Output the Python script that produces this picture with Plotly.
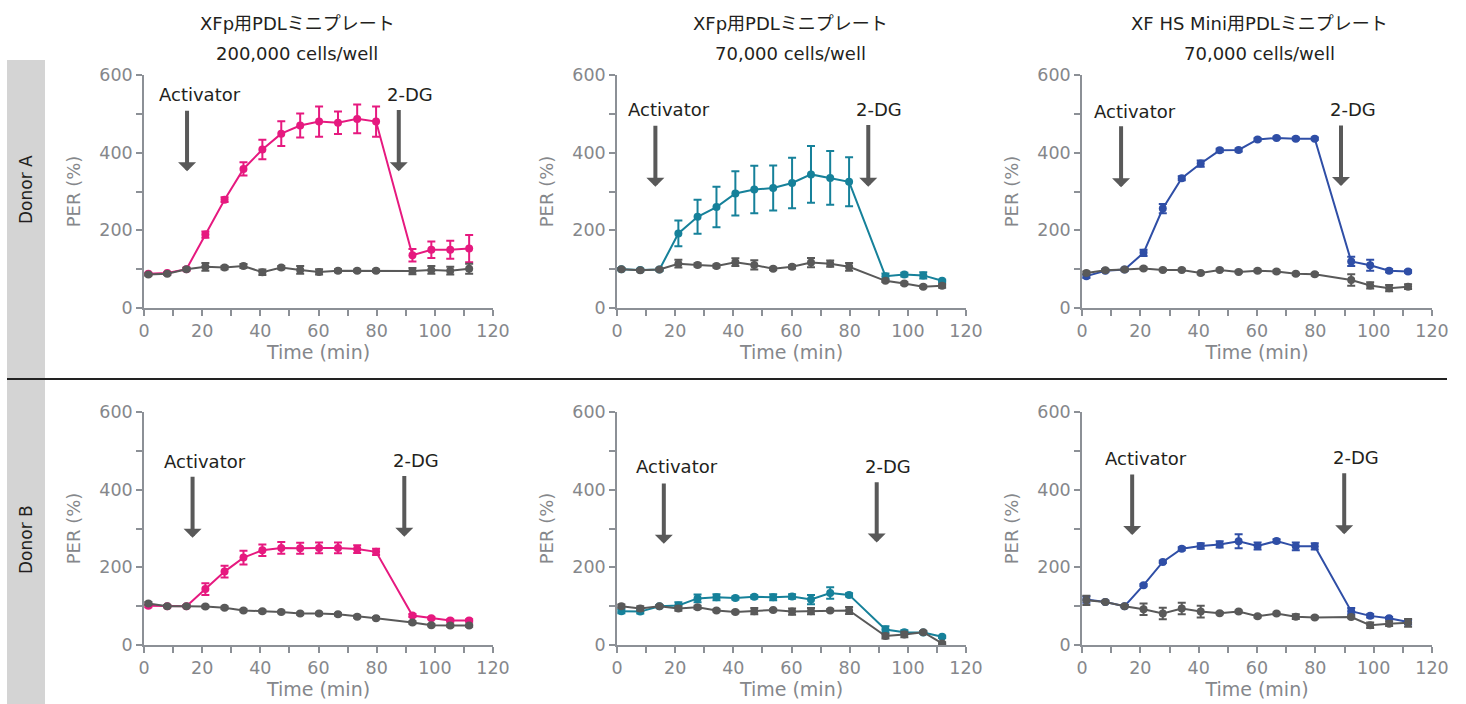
import plotly.graph_objects as go

W, H = 1466, 704

# ---------------- data ----------------
time_min = [1.5, 8.0, 14.6, 21.1, 27.7, 34.2, 40.7, 47.2, 53.7, 60.2, 66.7, 73.3, 79.8, 92.3, 98.8, 105.3, 111.8]

titles_line1 = ["XFp用PDLミニプレート", "XFp用PDLミニプレート", "XF HS Mini用PDLミニプレート"]
titles_line2 = ["200,000 cells/well", "70,000 cells/well", "70,000 cells/well"]
row_labels = ["Donor A", "Donor B"]

# Donor A
a1_treat = [88, 90, 100, 189, 279, 358, 408, 449, 470, 480, 477, 487, 480, 136, 150, 150, 153]
a1_treat_err = [3, 3, 4, 8, 6, 17, 25, 32, 31, 39, 29, 37, 39, 16, 21, 23, 35]
a1_ctrl = [86, 88, 100, 106, 104, 108, 92, 104, 98, 93, 96, 96, 96, 95, 98, 96, 101]
a1_ctrl_err = [3, 3, 3, 10, 4, 5, 7, 4, 10, 7, 4, 3, 3, 8, 10, 10, 13]

a2_treat = [100, 98, 99, 192, 235, 260, 295, 305, 309, 322, 344, 335, 325, 82, 86, 84, 70]
a2_treat_err = [3, 3, 3, 33, 44, 52, 57, 61, 58, 65, 73, 69, 63, 7, 5, 8, 3]
a2_ctrl = [100, 97, 99, 114, 111, 108, 118, 111, 101, 106, 117, 114, 106, 70, 63, 55, 57]
a2_ctrl_err = [3, 3, 3, 10, 4, 4, 10, 12, 3, 4, 12, 8, 10, 3, 3, 3, 5]

a3_treat = [82, 96, 99, 142, 256, 334, 372, 406, 407, 434, 438, 436, 436, 120, 110, 96, 94]
a3_treat_err = [5, 3, 3, 8, 12, 5, 8, 4, 4, 3, 3, 3, 3, 12, 14, 4, 3]
a3_ctrl = [90, 97, 99, 102, 98, 98, 90, 98, 93, 96, 94, 88, 87, 72, 58, 51, 55]
a3_ctrl_err = [4, 3, 3, 3, 3, 3, 3, 3, 3, 3, 3, 3, 3, 15, 8, 8, 6]

# Donor B
b1_treat = [101, 100, 100, 144, 189, 225, 244, 250, 249, 250, 250, 247, 240, 76, 69, 63, 63]
b1_treat_err = [4, 3, 3, 15, 15, 18, 15, 15, 14, 14, 14, 10, 8, 4, 3, 3, 3]
b1_ctrl = [107, 100, 100, 99, 96, 89, 87, 85, 81, 81, 79, 73, 69, 58, 51, 50, 50]
b1_ctrl_err = [4, 3, 3, 3, 3, 3, 3, 3, 3, 3, 3, 3, 3, 3, 3, 3, 3]

b2_treat = [87, 86, 100, 102, 120, 123, 121, 124, 123, 125, 117, 134, 129, 40, 33, 32, 21]
b2_treat_err = [5, 5, 3, 8, 10, 8, 4, 4, 8, 6, 12, 15, 4, 8, 5, 3, 3]
b2_ctrl = [100, 94, 100, 94, 97, 89, 85, 87, 90, 86, 87, 89, 89, 23, 27, 33, 4]
b2_ctrl_err = [4, 6, 3, 6, 4, 3, 3, 8, 3, 8, 8, 3, 9, 6, 7, 3, 3]

b3_treat = [117, 111, 100, 154, 214, 248, 255, 259, 267, 255, 268, 254, 254, 87, 75, 69, 59]
b3_treat_err = [8, 3, 3, 3, 3, 4, 7, 8, 18, 9, 4, 10, 8, 8, 4, 3, 6]
b3_ctrl = [115, 111, 100, 92, 81, 94, 86, 82, 86, 74, 81, 73, 71, 72, 51, 55, 57]
b3_ctrl_err = [12, 3, 3, 15, 15, 15, 15, 3, 3, 3, 3, 6, 3, 3, 7, 6, 10]

x_ticks = [0, 20, 40, 60, 80, 100, 120]
y_ticks = [0, 200, 400, 600]

# ---------------- styling / layout ----------------
PINK, TEAL, BLUE, GRAY = "#e6197f", "#16819a", "#2f4ea6", "#595959"
AXIS_C = "#8c9096"
TICK_C = "#85878b"
TEXT_C = "#231f20"
FONT = "DejaVu Sans, Noto Sans CJK JP, sans-serif"

panels = [
    (a1_treat, a1_treat_err, a1_ctrl, a1_ctrl_err, PINK),
    (a2_treat, a2_treat_err, a2_ctrl, a2_ctrl_err, TEAL),
    (a3_treat, a3_treat_err, a3_ctrl, a3_ctrl_err, BLUE),
    (b1_treat, b1_treat_err, b1_ctrl, b1_ctrl_err, PINK),
    (b2_treat, b2_treat_err, b2_ctrl, b2_ctrl_err, TEAL),
    (b3_treat, b3_treat_err, b3_ctrl, b3_ctrl_err, BLUE),
]

# pixel geometry of plot areas
col_px = [(144, 493), (617, 966), (1082, 1432)]
row_px = [(75, 308), (412, 645)]

# arrow/label placement (data units): (arrow x, arrow top, arrow tip, label x, label y)
arrow_cfg = [
    ((14.8, 512, 352, 19.2, 550), (87.6, 514, 352, 91.4, 550)),
    ((13.2, 473, 312, 17.8, 510), (86.4, 475, 312, 90.2, 510)),
    ((13.4, 472, 311, 18.1, 507), (88.8, 474, 314, 92.8, 510)),
    ((16.7, 437, 276, 21.1, 473), (89.5, 439, 279, 93.5, 474)),
    ((16.1, 420, 261, 20.6, 460), (89.3, 423, 264, 93.3, 460)),
    ((17.2, 443, 283, 21.9, 480), (89.9, 446, 285, 93.9, 482)),
]

fig = go.Figure()
layout = dict(
    width=W, height=H, autosize=False,
    margin=dict(l=0, r=0, t=0, b=0, pad=0, autoexpand=False),
    paper_bgcolor="white", plot_bgcolor="white",
    showlegend=False,
    font=dict(family=FONT, color=TEXT_C),
)
annotations = []
shapes = []

for i, (tr, tre, ct, cte, col) in enumerate(panels):
    k = i + 1
    r, c = divmod(i, 3)
    xs = "" if k == 1 else str(k)
    xref, yref = "x" + xs, "y" + xs
    x0p, x1p = col_px[c]
    y0p, y1p = row_px[r]
    layout["xaxis" + xs] = dict(
        domain=[x0p / W, x1p / W], anchor=yref, range=[0, 120], automargin=False,
        tickvals=x_ticks, showline=True, linecolor=AXIS_C, linewidth=1.5,
        ticks="outside", ticklen=6, tickwidth=1.5, tickcolor=AXIS_C,
        minor=dict(dtick=10, tick0=0, ticks="outside", ticklen=6, tickwidth=1.5, tickcolor=AXIS_C, showgrid=False),
        showgrid=False, zeroline=False,
        tickfont=dict(family=FONT, size=17.5, color=TICK_C),
        title=dict(text="Time (min)", font=dict(family=FONT, size=19, color=TICK_C), standoff=6),
    )
    layout["yaxis" + xs] = dict(
        domain=[1 - y1p / H, 1 - y0p / H], anchor=xref, range=[0, 600], automargin=False,
        tickvals=y_ticks, showline=True, linecolor=AXIS_C, linewidth=1.5,
        ticks="outside", ticklen=6, tickwidth=1.5, tickcolor=AXIS_C,
        minor=dict(dtick=100, tick0=0, ticks="outside", ticklen=6, tickwidth=1.5, tickcolor=AXIS_C, showgrid=False),
        showgrid=False, zeroline=False,
        tickfont=dict(family=FONT, size=17.5, color=TICK_C),
        title=dict(text="PER (%)", font=dict(family=FONT, size=18, color=TICK_C), standoff=14),
    )
    fig.add_trace(go.Scatter(
        x=time_min, y=tr, mode="lines+markers", xaxis=xref, yaxis=yref,
        line=dict(color=col, width=2), marker=dict(color=col, size=8),
        error_y=dict(type="data", array=tre, visible=True, color=col, thickness=2, width=4),
    ))
    fig.add_trace(go.Scatter(
        x=time_min, y=ct, mode="lines+markers", xaxis=xref, yaxis=yref,
        line=dict(color=GRAY, width=2), marker=dict(color=GRAY, size=8),
        error_y=dict(type="data", array=cte, visible=True, color=GRAY, thickness=2, width=4),
    ))
    for (ax_x, top, tip, lx, ly), label in zip(arrow_cfg[i], ["Activator", "2-DG"]):
        annotations.append(dict(
            x=ax_x, y=tip, ax=ax_x, ay=top, xref=xref, yref=yref, axref=xref, ayref=yref,
            text="", showarrow=True, arrowhead=1, arrowsize=0.75, arrowwidth=4, arrowcolor=GRAY,
        ))
        annotations.append(dict(
            x=lx, y=ly, xref=xref, yref=yref, text=label, showarrow=False,
            font=dict(family=FONT, size=18, color=TEXT_C), xanchor="center", yanchor="middle",
        ))

# column titles
title_cx = [297, 790, 1259]
for cx, t1, t2 in zip(title_cx, titles_line1, titles_line2):
    annotations.append(dict(x=cx / W, y=1 - 23 / H, xref="paper", yref="paper", text=t1, showarrow=False,
                            xanchor="center", yanchor="middle", font=dict(family=FONT, size=18, color=TEXT_C)))
    annotations.append(dict(x=cx / W, y=1 - 53 / H, xref="paper", yref="paper", text=t2, showarrow=False,
                            xanchor="center", yanchor="middle", font=dict(family=FONT, size=18, color=TEXT_C)))

# row labels and band
shapes.append(dict(type="rect", xref="paper", yref="paper", x0=7 / W, x1=45 / W, y0=0, y1=1 - 60 / H,
                   fillcolor="#d4d4d4", line=dict(width=0), layer="below"))
shapes.append(dict(type="line", xref="paper", yref="paper", x0=7 / W, x1=1447 / W, y0=1 - 379 / H, y1=1 - 379 / H,
                   line=dict(color="#222222", width=2)))
for lbl, cy in zip(row_labels, [190, 540]):
    annotations.append(dict(x=26 / W, y=1 - cy / H, xref="paper", yref="paper", text=lbl, showarrow=False,
                            textangle=-90, xanchor="center", yanchor="middle",
                            font=dict(family=FONT, size=17, color=TEXT_C)))

layout["annotations"] = annotations
layout["shapes"] = shapes
fig.update_layout(**layout)
fig.write_html(
    "out.html",
    config={"displayModeBar": False},
    post_script="document.body.style.margin='0';document.body.style.overflow='hidden';",
)
